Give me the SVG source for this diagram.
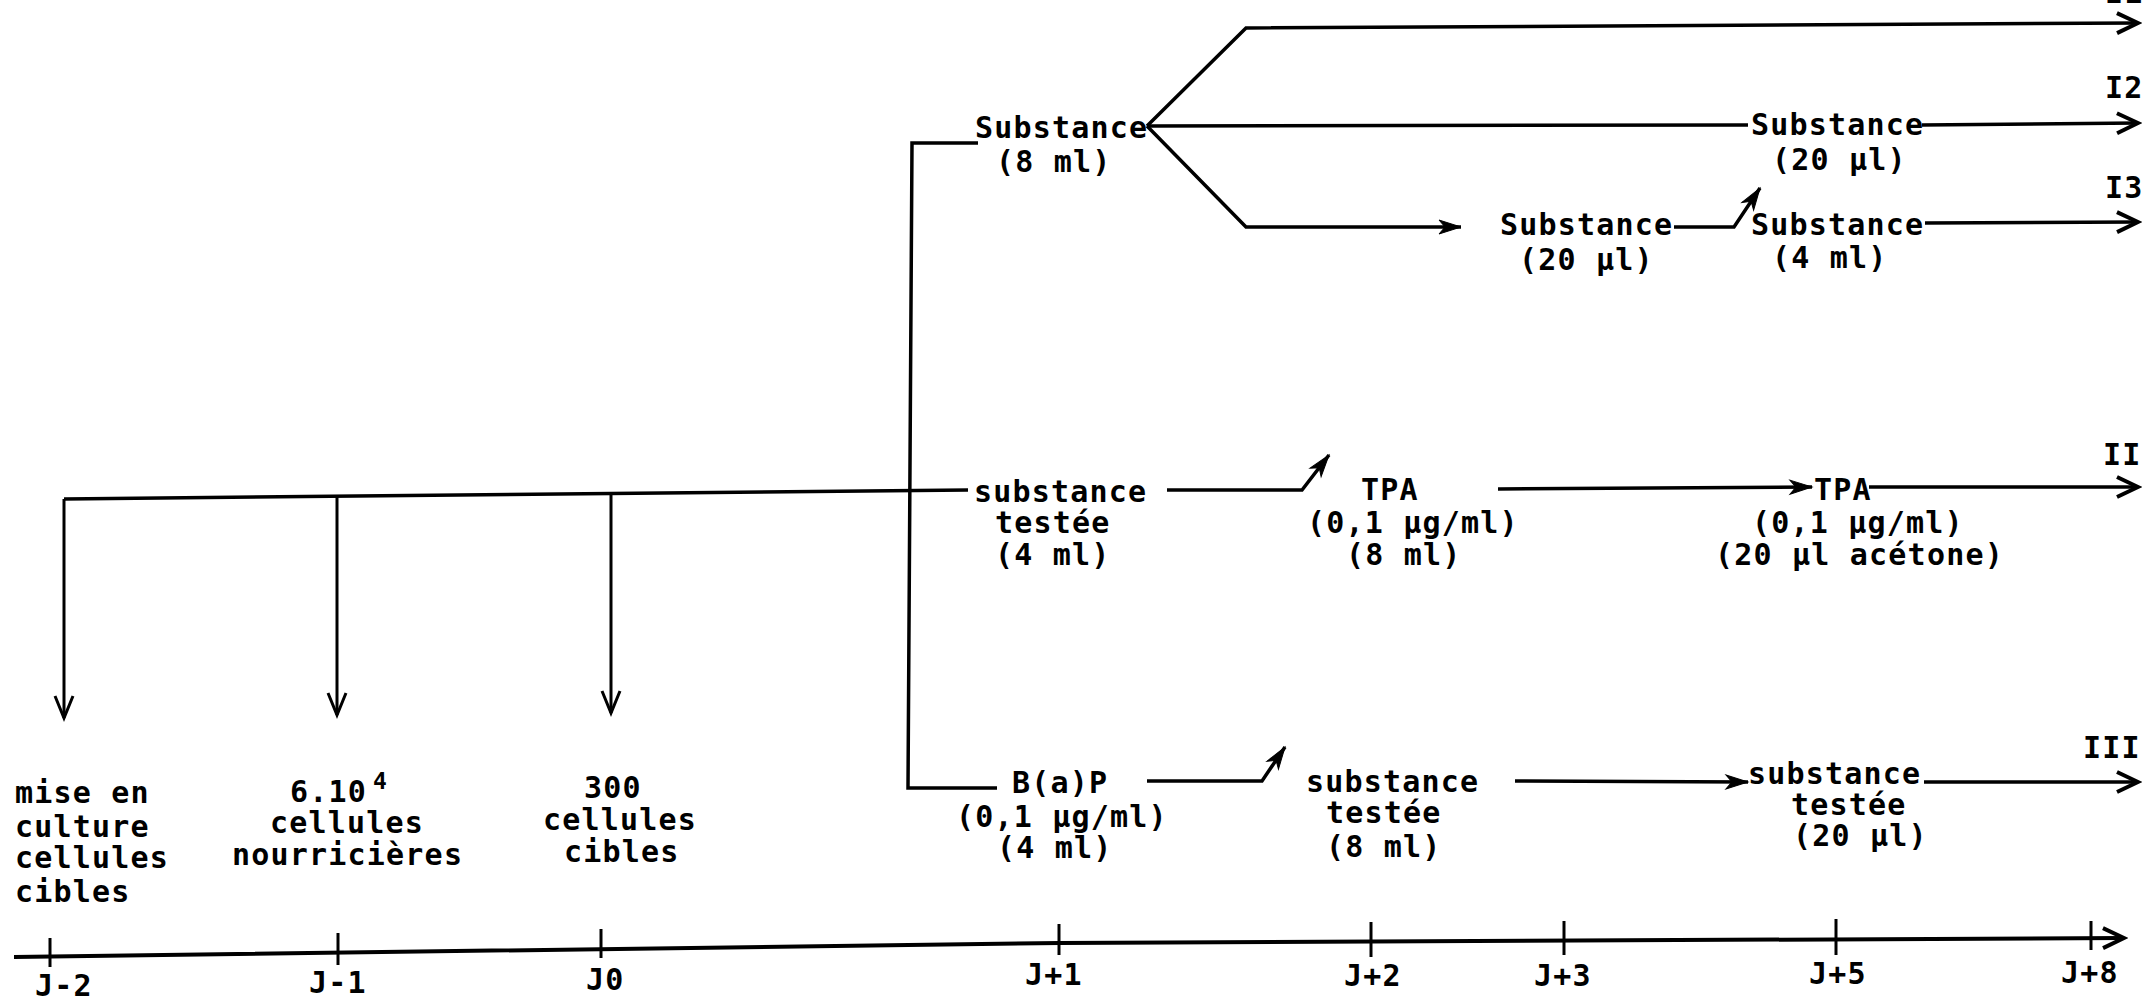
<svg xmlns="http://www.w3.org/2000/svg" width="2148" height="1002" viewBox="0 0 2148 1002">
<style>
text{font-family:"DejaVu Sans Mono","Liberation Mono",monospace;font-size:30px;letter-spacing:1.2px;font-weight:bold;fill:#000}
.ln{fill:none;stroke:#000;stroke-width:3.5;stroke-linejoin:miter}
.thin{fill:none;stroke:#000;stroke-width:3}
.ax{fill:none;stroke:#000;stroke-width:4}
.tk{stroke:#000;stroke-width:3}
.sup{font-size:23px;letter-spacing:0}
</style>
<defs>
<marker id="open" markerUnits="userSpaceOnUse" viewBox="-26 -15 30 30" markerWidth="30" markerHeight="30" refX="0" refY="0" orient="auto">
<path d="M-21,-10 L0,0 L-21,10" fill="none" stroke="#000" stroke-width="4"/>
</marker>
<marker id="openthin" markerUnits="userSpaceOnUse" viewBox="-26 -15 30 30" markerWidth="30" markerHeight="30" refX="0" refY="0" orient="auto">
<path d="M-22,-9 L0,0 L-22,9" fill="none" stroke="#000" stroke-width="3"/>
</marker>
<marker id="fill" markerUnits="userSpaceOnUse" viewBox="-26 -15 30 30" markerWidth="30" markerHeight="30" refX="0" refY="0" orient="auto">
<path d="M-22,-7 L0,0 L-22,7 L-16,0 Z" fill="#000" stroke="#000" stroke-width="1"/>
</marker>
</defs>
<rect width="2148" height="1002" fill="#fff"/>

<g id="connectors">
<path class="ln" d="M64,499 L968,490"/>
<path class="thin" d="M64,499 L64,718" marker-end="url(#openthin)"/>
<path class="thin" d="M337,496 L337,715" marker-end="url(#openthin)"/>
<path class="thin" d="M611,494 L611,713" marker-end="url(#openthin)"/>
<path class="ln" d="M978,143 L912,143 L908,788 L997,788"/>
<path class="ln" d="M1147,126 L1246,28 L2138,23" marker-end="url(#open)"/>
<path class="ln" d="M1147,126 L1748,125"/>
<path class="ln" d="M1147,126 L1246,227 L1461,227" marker-end="url(#fill)"/>
<path class="ln" d="M1922,125 L2138,123" marker-end="url(#open)"/>
<path class="ln" d="M1674,227 L1734,227 L1760,188" marker-end="url(#fill)"/>
<path class="ln" d="M1925,223 L2138,222" marker-end="url(#open)"/>
<path class="ln" d="M1167,490 L1302,490 L1329,455" marker-end="url(#fill)"/>
<path class="ln" d="M1498,489 L1812,487" marker-end="url(#fill)"/>
<path class="ln" d="M1869,487 L2138,487" marker-end="url(#open)"/>
<path class="ln" d="M1147,781 L1262,781 L1285,747" marker-end="url(#fill)"/>
<path class="ln" d="M1515,781 L1748,782" marker-end="url(#fill)"/>
<path class="ln" d="M1924,782 L2138,782" marker-end="url(#open)"/>
</g>

<g id="timeline">
<path class="ax" d="M14,957 L1060,943 L2124,938" marker-end="url(#open)"/>
<line class="tk" x1="50" y1="938" x2="50" y2="967"/>
<line class="tk" x1="338" y1="933" x2="338" y2="965"/>
<line class="tk" x1="601" y1="929" x2="601" y2="958"/>
<line class="tk" x1="1059" y1="924" x2="1059" y2="955"/>
<line class="tk" x1="1371" y1="922" x2="1371" y2="957"/>
<line class="tk" x1="1564" y1="921" x2="1564" y2="955"/>
<line class="tk" x1="1836" y1="919" x2="1836" y2="955"/>
<line class="tk" x1="2091" y1="921" x2="2091" y2="950"/>
<text x="35" y="996">J-2</text>
<text x="309" y="993">J-1</text>
<text x="586" y="990">J0</text>
<text x="1025" y="985">J+1</text>
<text x="1344" y="986">J+2</text>
<text x="1534" y="986">J+3</text>
<text x="1809" y="984">J+5</text>
<text x="2061" y="983">J+8</text>
</g>

<g id="n-mise">
<text x="15" y="803">mise en</text>
<text x="15" y="837">culture</text>
<text x="15" y="868">cellules</text>
<text x="15" y="902">cibles</text>
</g>
<g id="n-nourricieres">
<text x="290" y="802">6.10</text>
<text class="sup" x="373" y="789">4</text>
<text x="270" y="833">cellules</text>
<text x="232" y="865">nourricières</text>
</g>
<g id="n-cibles">
<text x="584" y="798">300</text>
<text x="543" y="830">cellules</text>
<text x="564" y="862">cibles</text>
</g>

<g id="n-subst8">
<text x="975" y="138">Substance</text>
<text x="996" y="172">(8 ml)</text>
</g>
<g id="n-I2-subst">
<text x="1751" y="135">Substance</text>
<text x="1772" y="170">(20 µl)</text>
</g>
<g id="n-I3-subst20">
<text x="1500" y="235">Substance</text>
<text x="1519" y="270">(20 µl)</text>
</g>
<g id="n-I3-subst4">
<text x="1751" y="235">Substance</text>
<text x="1772" y="268">(4 ml)</text>
</g>
<g id="n-II-subst">
<text x="974" y="502">substance</text>
<text x="995" y="533">testée</text>
<text x="995" y="565">(4 ml)</text>
</g>
<g id="n-II-tpa8">
<text x="1361" y="500">TPA</text>
<text x="1307" y="533">(0,1 µg/ml)</text>
<text x="1346" y="565">(8 ml)</text>
</g>
<g id="n-II-tpa20">
<text x="1814" y="500">TPA</text>
<text x="1752" y="533">(0,1 µg/ml)</text>
<text x="1715" y="565">(20 µl acétone)</text>
</g>
<g id="n-III-bap">
<text x="1012" y="793">B(a)P</text>
<text x="956" y="827">(0,1 µg/ml)</text>
<text x="997" y="858">(4 ml)</text>
</g>
<g id="n-III-subst8">
<text x="1306" y="792">substance</text>
<text x="1326" y="823">testée</text>
<text x="1326" y="857">(8 ml)</text>
</g>
<g id="n-III-subst20">
<text x="1748" y="784">substance</text>
<text x="1791" y="815">testée</text>
<text x="1793" y="846">(20 µl)</text>
</g>

<g id="labels">
<text x="2105" y="3">I1</text>
<text x="2105" y="98">I2</text>
<text x="2105" y="198">I3</text>
<text x="2103" y="465">II</text>
<text x="2083" y="758">III</text>
</g>
</svg>
